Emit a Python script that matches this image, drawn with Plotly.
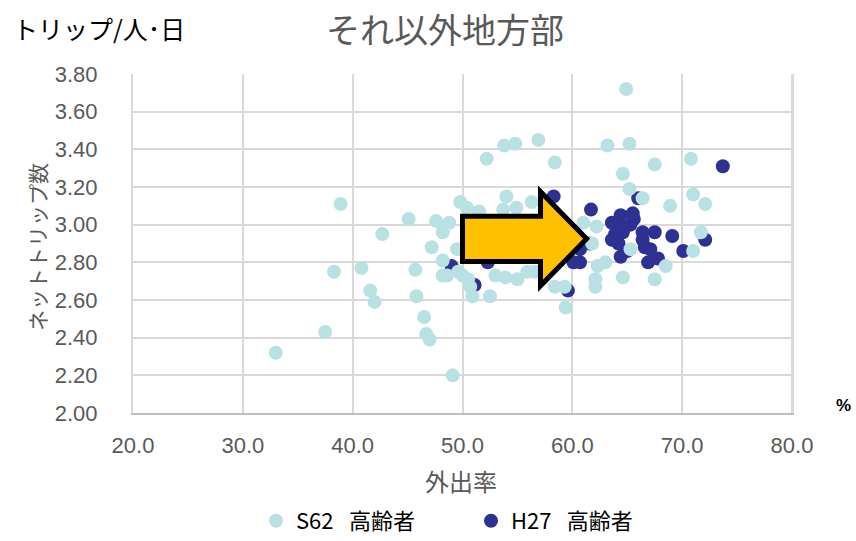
import plotly.graph_objects as go

# 外出率 (%) と ネットトリップ数 (トリップ/人・日)
s62_x = [33.0, 37.5, 38.9, 38.3, 40.8, 41.6, 42.0, 42.7, 45.1, 45.7, 45.8, 46.5, 46.7, 47.0,
         47.2, 47.6, 48.2, 48.2, 48.2, 49.1, 48.8, 49.8, 50.4, 51.5, 49.5, 48.6, 49.6, 50.0,
         50.5, 50.7, 50.9, 52.5, 53.0, 53.9, 55.0, 55.9, 56.6, 58.4, 59.3, 59.4, 53.8, 54.8,
         56.9, 52.2, 58.4, 54.0, 53.7, 54.9, 56.3, 64.9, 63.2, 65.2, 64.6, 65.2, 66.4, 67.5,
         70.8, 68.9, 71.0, 72.1, 71.7, 71.0, 68.5, 67.5, 64.6, 65.3, 63.0, 62.3, 62.1, 62.1,
         61.0, 62.2, 61.8]
s62_y = [2.32, 2.43, 3.11, 2.75, 2.77, 2.65, 2.59, 2.95, 3.03, 2.76, 2.62, 2.51, 2.42, 2.39,
         2.88, 3.02, 2.96, 2.81, 2.73, 2.20, 3.01, 3.12, 3.09, 3.07, 2.87, 2.73, 2.75, 2.73,
         2.71, 2.67, 2.62, 2.62, 2.73, 2.72, 2.71, 2.75, 2.75, 2.67, 2.67, 2.56, 3.42, 3.43,
         3.45, 3.35, 3.33, 3.15, 3.08, 3.09, 3.12, 3.72, 3.42, 3.43, 3.27, 3.19, 3.14, 3.32,
         3.35, 3.10, 3.16, 3.11, 2.96, 2.86, 2.78, 2.71, 2.72, 2.87, 2.80, 2.78, 2.71, 2.67,
         3.01, 2.99, 2.90]

h27_x = [49.0, 51.1, 52.3, 58.3, 61.7, 63.6, 64.4, 65.5, 65.6, 63.9, 64.6, 64.2, 64.4, 65.0,
         66.4, 66.4, 66.6, 67.5, 69.1, 67.1, 66.9, 67.8, 70.1, 72.1, 73.7, 66.0, 61.6, 60.7,
         60.1, 59.6, 60.7, 63.6, 65.3, 64.4]
h27_y = [2.78, 2.68, 2.80, 3.15, 3.08, 3.01, 3.05, 3.06, 3.03, 2.95, 2.96, 2.90, 2.83, 2.86,
         2.96, 2.92, 2.88, 2.96, 2.94, 2.87, 2.80, 2.82, 2.86, 2.92, 3.31, 3.14, 2.90, 2.80,
         2.80, 2.65, 2.87, 2.92, 3.00, 2.99]

x_ticks = [20, 30, 40, 50, 60, 70, 80]
y_ticks = [2.0, 2.2, 2.4, 2.6, 2.8, 3.0, 3.2, 3.4, 3.6, 3.8]

LIGHT = "#B9E1E4"
DARK = "#2E3192"
GRID = "#D9D9D9"
TXT = "#595959"
JP = "Noto Sans CJK JP"
LAT = "Liberation Sans"
GAP = "\u2002\u2009"

fig = go.Figure()
fig.add_trace(go.Scatter(x=h27_x, y=h27_y, mode="markers", name="H27" + GAP + "高齢者",
                         marker=dict(color=DARK, size=14, line=dict(width=0))))
fig.add_trace(go.Scatter(x=s62_x, y=s62_y, mode="markers", name="S62" + GAP + "高齢者",
                         marker=dict(color=LIGHT, size=14, line=dict(width=0))))

# 右向きブロック矢印
arrow = ("M 50.0,2.805 L 57.1,2.805 L 57.1,2.675 L 61.3,2.925 "
         "L 57.1,3.175 L 57.1,3.045 L 50.0,3.045 Z")
fig.add_shape(type="path", path=arrow, xref="x", yref="y", layer="above",
              fillcolor="#FFC000", line=dict(color="black", width=5))

W, H = 856, 541
L, R, T, B = 133, 64, 74, 128
pw, ph = W - L - R, H - T - B


def px(xp):
    return (xp - L) / pw


def py(yp):
    return (H - B - yp) / ph


fig.add_annotation(x=px(11), y=py(28), xref="paper", yref="paper", text="トリップ/人･日",
                   showarrow=False, xanchor="left", yanchor="middle",
                   font=dict(family=JP, size=25, color="black"))
fig.add_annotation(x=px(37), y=py(247), xref="paper", yref="paper", text="ネットトリップ数",
                   showarrow=False, textangle=-90, xanchor="center", yanchor="middle",
                   font=dict(family=JP, size=21, color=TXT))
fig.add_annotation(x=px(461), y=py(480), xref="paper", yref="paper", text="外出率",
                   showarrow=False, xanchor="center", yanchor="middle",
                   font=dict(family=JP, size=24, color=TXT))
fig.add_annotation(x=px(843), y=py(405), xref="paper", yref="paper", text="<b>%</b>",
                   showarrow=False, xanchor="center", yanchor="middle",
                   font=dict(family=LAT, size=17, color="black"))
fig.add_annotation(x=px(445), y=py(28), xref="paper", yref="paper", text="それ以外地方部",
                   showarrow=False, xanchor="center", yanchor="middle",
                   font=dict(family=JP, size=34, color=TXT))

fig.update_layout(
    width=W, height=H,
    margin=dict(l=L, r=R, t=T, b=B, pad=0),
    paper_bgcolor="white", plot_bgcolor="white",
    xaxis=dict(range=[20, 80], tickvals=x_ticks, tickformat=".1f",
               showgrid=True, gridcolor=GRID, gridwidth=2,
               showline=True, linecolor="#BFBFBF", linewidth=2, mirror=False,
               zeroline=False, ticks="", ticklabelstandoff=12,
               tickfont=dict(family=LAT, size=22, color=TXT)),
    yaxis=dict(range=[2.0, 3.8], tickvals=y_ticks, tickformat=".2f",
               showgrid=True, gridcolor=GRID, gridwidth=2,
               showline=True, linecolor=GRID, linewidth=2, mirror=True,
               zeroline=False, ticks="", ticklabelstandoff=29,
               tickfont=dict(family=LAT, size=22, color=TXT)),
    showlegend=True,
    legend=dict(orientation="h", traceorder="reversed",
                xref="container", yref="container",
                x=256 / W, xanchor="left", y=1 - 521 / H, yanchor="middle",
                entrywidth=170, entrywidthmode="pixels",
                font=dict(family=JP, size=22, color="black"),
                bgcolor="rgba(0,0,0,0)"),
)
# 右端の枠線
fig.add_shape(type="line", xref="paper", yref="paper", x0=1, x1=1, y0=0, y1=1,
              line=dict(color=GRID, width=2), layer="below")

fig.write_html("out.html")
